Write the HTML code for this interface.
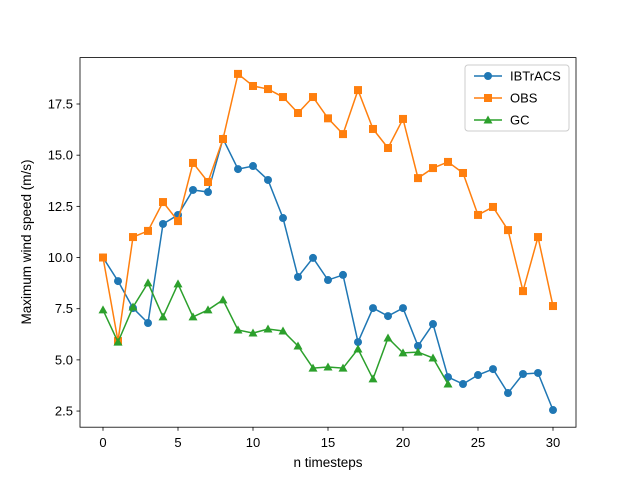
<!DOCTYPE html>
<html><head><meta charset="utf-8"><style>
body{margin:0;background:#fff}
svg text{font-family:"Liberation Sans","DejaVu Sans",sans-serif;fill:#000}
</style></head><body>
<svg id="chart" width="640" height="480" xmlns="http://www.w3.org/2000/svg">
<rect width="640" height="480" fill="#fff"/>
<g id="marks"></g>
<rect x="80" y="57.6" width="496" height="369.6" fill="none" stroke="#000" stroke-width="0.8"/>
<g id="axes"></g>
<text x="328" y="467" font-size="13.5" text-anchor="middle">n timesteps</text>
<text transform="translate(31,242) rotate(-90)" font-size="13.5" text-anchor="middle">Maximum wind speed (m/s)</text>
<g>
<rect x="465" y="65" width="104" height="66" rx="3" fill="#fff" fill-opacity="0.8" stroke="#ccc"/>
<g id="legend"></g>
</g>
</svg>
<script>
const ibtracs=[10.0,8.85,7.53,6.8,11.64,12.08,13.3,13.2,15.8,14.32,14.47,13.79,11.93,9.05,9.98,8.9,9.15,5.87,7.53,7.14,7.53,5.68,6.75,4.16,3.82,4.26,4.55,3.38,4.31,4.36,2.55];
const obs=[10.0,5.92,11.0,11.3,12.71,11.78,14.62,13.69,15.79,18.97,18.38,18.23,17.84,17.06,17.84,16.8,16.03,18.18,16.28,15.35,16.77,13.88,14.37,14.67,14.13,12.08,12.47,11.34,8.36,11.0,7.63];
const gc=[7.44,5.87,7.58,8.76,7.1,8.71,7.1,7.44,7.93,6.46,6.31,6.51,6.41,5.68,4.6,4.65,4.6,5.53,4.07,6.07,5.34,5.38,5.09,3.82];
const xTicks=[0,5,10,15,20,25,30];
const yTicks=[2.5,5.0,7.5,10.0,12.5,15.0,17.5];
const seriesNames=["IBTrACS","OBS","GC"];
const NS="http://www.w3.org/2000/svg";
const X=v=>103+v*15;
const Y=v=>104+(17.5-v)*20.47;
function mk(tag,attrs,parent){const e=document.createElementNS(NS,tag);for(const k in attrs)e.setAttribute(k,attrs[k]);parent.appendChild(e);return e;}
const axes=document.getElementById('axes');
xTicks.forEach(t=>{
  const l=mk('line',{x1:X(t),x2:X(t),y1:427.2,y2:430.7,stroke:'#000','stroke-width':0.8},axes);
  
  
  const tx=mk('text',{x:X(t),y:447,'font-size':13,'text-anchor':'middle'},axes);tx.textContent=t;
  
  
});
yTicks.forEach(t=>{
  const l=mk('line',{x1:76.5,x2:80,y1:Y(t),y2:Y(t),stroke:'#000','stroke-width':0.8},axes);
  
  
  const tx=mk('text',{x:73,y:Y(t)+4.5,'font-size':13,'text-anchor':'end'},axes);tx.textContent=t.toFixed(1);
  
  
});
const colors=['#1f77b4','#ff7f0e','#2ca02c'];
const marks=document.getElementById('marks');
function marker(type,x,y,c,p){
  let m;
  if(type==0)m=mk('circle',{cx:x,cy:y,r:4,fill:c},p);
  else if(type==1)m=mk('rect',{x:x-4,y:y-4,width:8,height:8,fill:c},p);
  else m=mk('polygon',{points:`${x},${y-4.5} ${x+4.5},${y+3.5} ${x-4.5},${y+3.5}`,fill:c},p);
  return m;
}
[ibtracs,obs,gc].forEach((d,si)=>{
  const g=mk('g',{},marks);
  
  
  const pl=mk('polyline',{points:d.map((v,i)=>X(i)+','+Y(v)).join(' '),fill:'none',stroke:colors[si],'stroke-width':1.5},g);
  
  
  d.forEach((v,i)=>{
    const m=marker(si,X(i),Y(v),colors[si],g);
    
    
  });
});
const lg=document.getElementById('legend');
seriesNames.forEach((n,i)=>{
  const y=76+i*22;
  const g=mk('g',{},lg);
  
  
  mk('line',{x1:474,x2:502,y1:y,y2:y,stroke:colors[i],'stroke-width':1.5},g);
  marker(i,488,y,colors[i],g);
  const t=mk('text',{x:510,y:y+4.5,'font-size':13},g);t.textContent=n;
});
</script>
</body></html>
